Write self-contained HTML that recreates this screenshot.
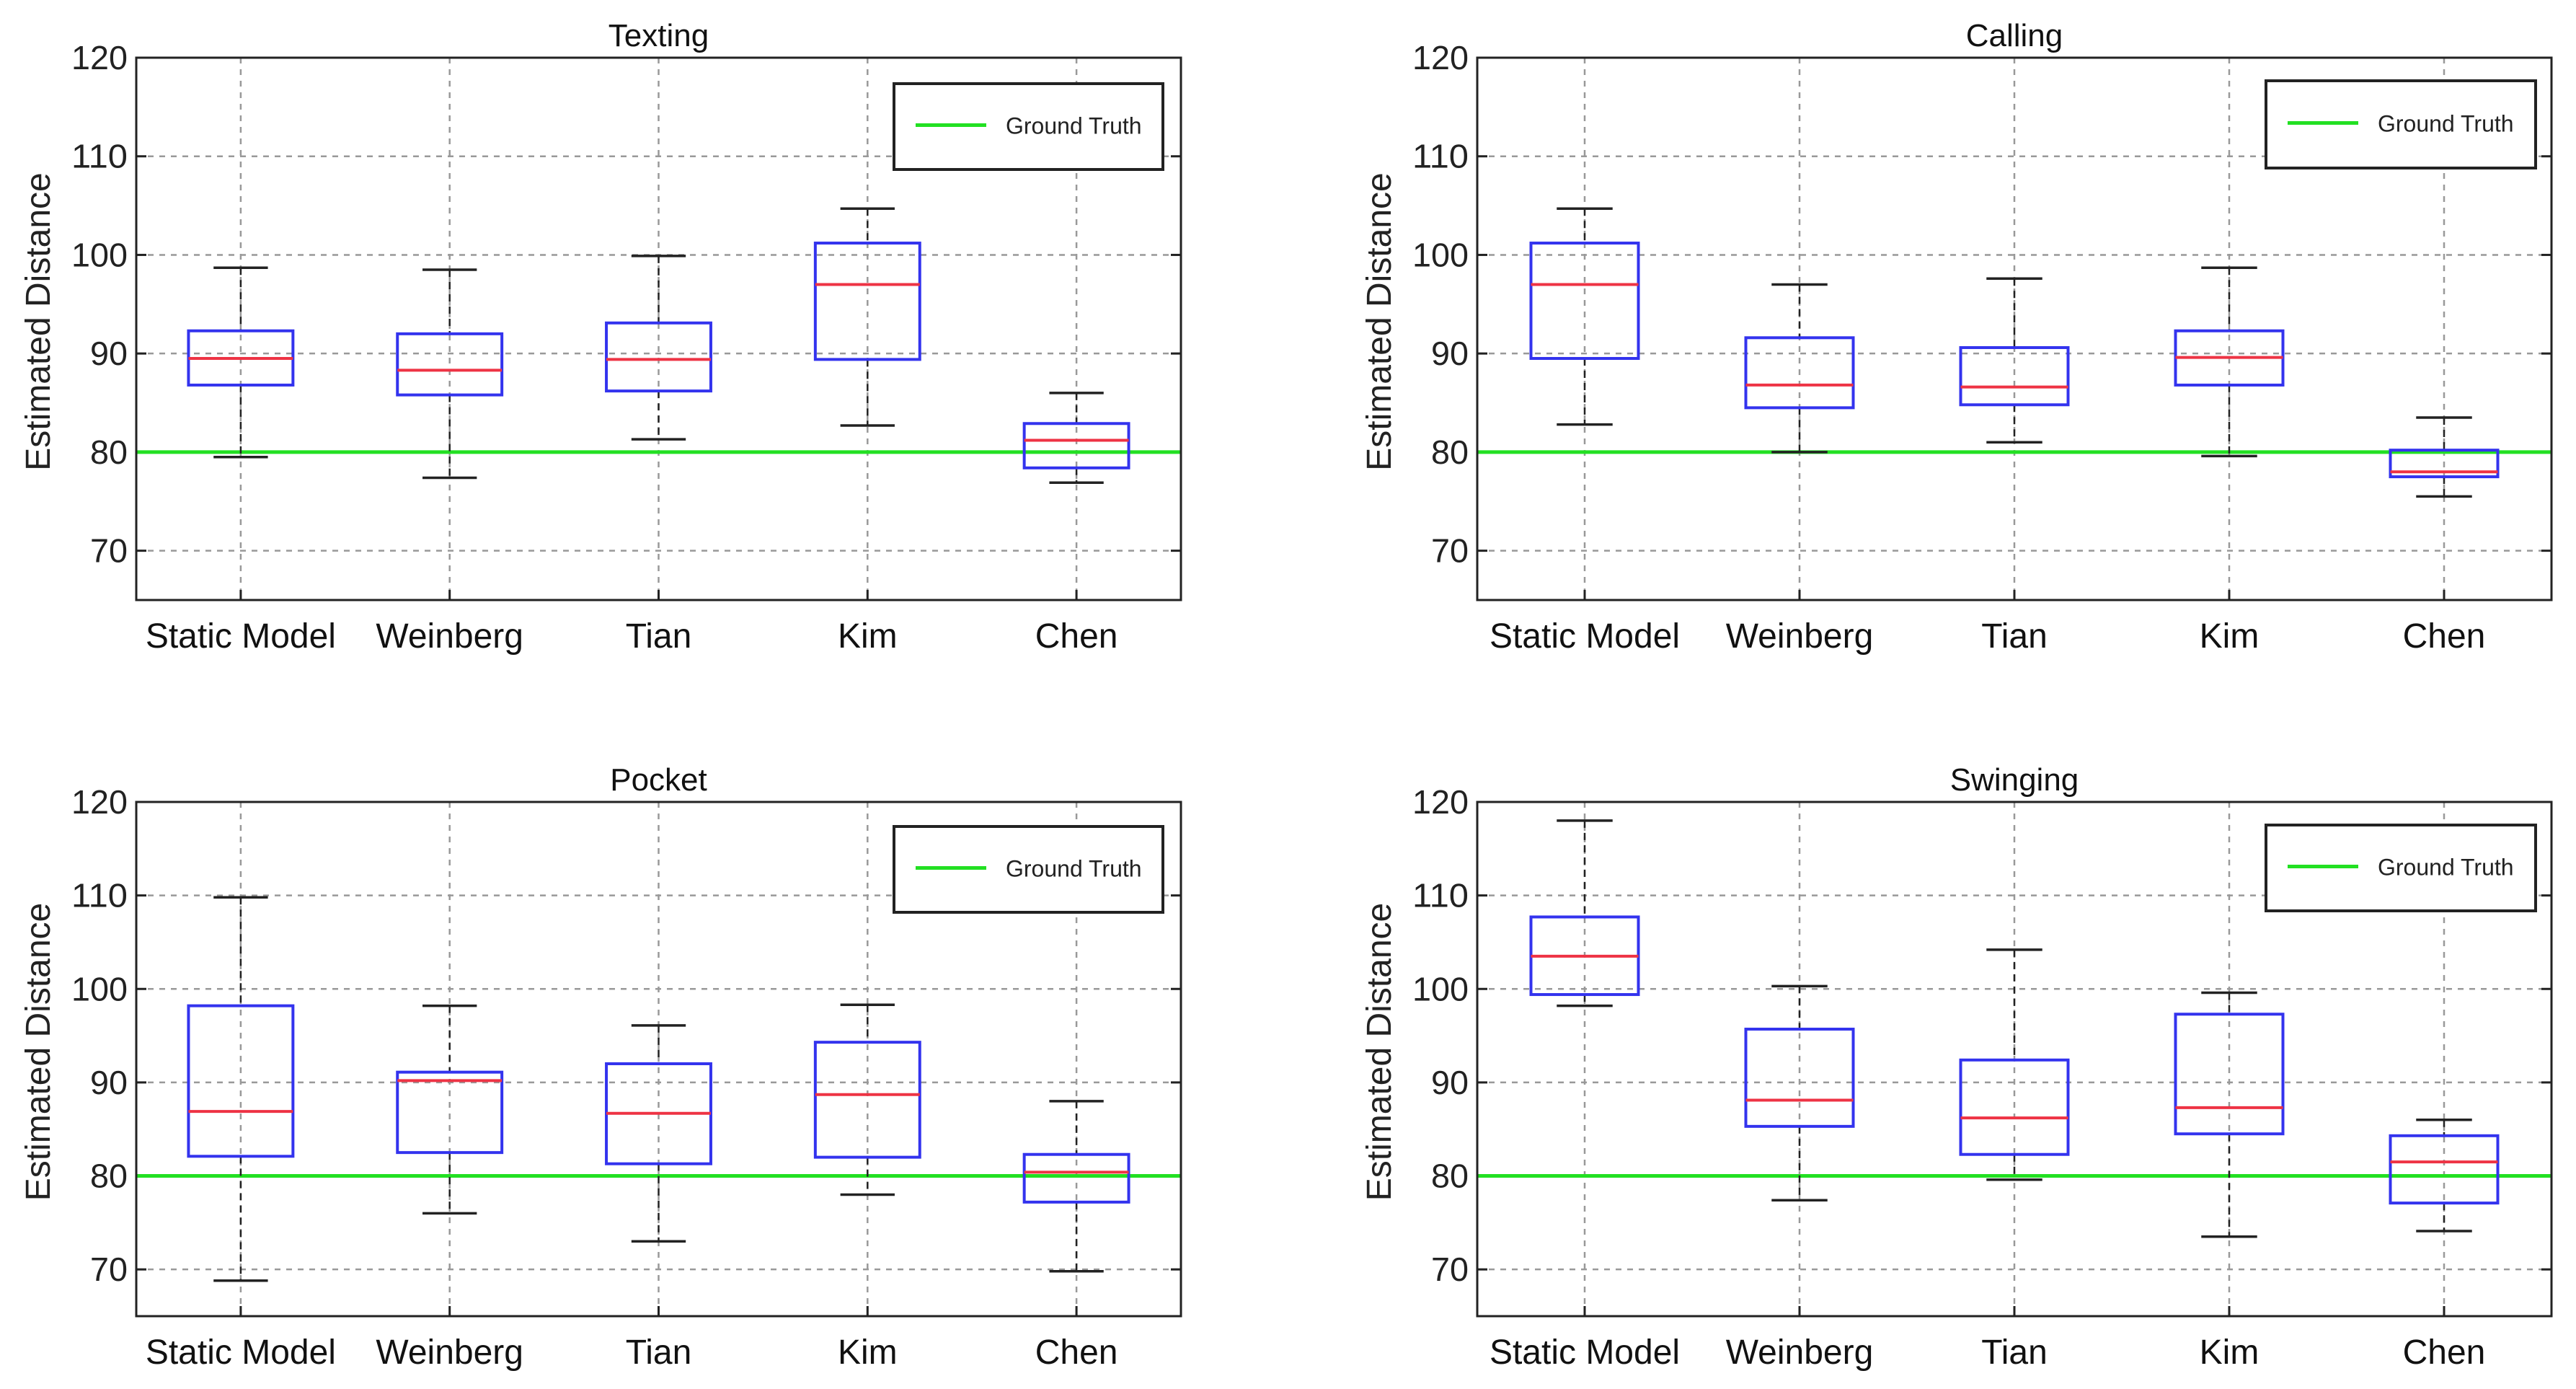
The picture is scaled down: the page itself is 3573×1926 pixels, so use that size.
<!DOCTYPE html>
<html><head><meta charset="utf-8"><style>
html,body{margin:0;padding:0;background:#fff}
svg{display:block}
text{font-family:"Liberation Sans",Arial,sans-serif}
</style></head><body>
<svg id="fig" width="3573" height="1926" viewBox="0 0 3573 1926" xmlns="http://www.w3.org/2000/svg"></svg>
<script>
const categories = ["Static Model","Weinberg","Tian","Kim","Chen"];
const yTicks = [70,80,90,100,110,120];
const groundTruth = 80;
const panelTitles = ["Texting","Calling","Pocket","Swinging"];
// [low whisker, q1, median, q3, high whisker] per category
const textingStats = [[79.5,86.8,89.5,92.3,98.7],[77.4,85.8,88.3,92,98.5],[81.3,86.2,89.4,93.1,99.9],[82.7,89.4,97,101.2,104.7],[76.9,78.4,81.2,82.9,86]];
const callingStats = [[82.8,89.5,97,101.2,104.7],[80,84.5,86.8,91.6,97],[81,84.8,86.6,90.6,97.6],[79.6,86.8,89.6,92.3,98.7],[75.5,77.5,78,80.2,83.5]];
const pocketStats = [[68.8,82.1,86.9,98.2,109.8],[76,82.5,90.2,91.1,98.2],[73,81.3,86.7,92,96.1],[78,82,88.7,94.3,98.3],[69.8,77.2,80.4,82.3,88]];
const swingingStats = [[98.2,99.4,103.5,107.7,118],[77.4,85.3,88.1,95.7,100.3],[79.6,82.3,86.2,92.4,104.2],[73.5,84.5,87.3,97.3,99.6],[74.1,77.1,81.5,84.3,86]];
const allStats = [textingStats,callingStats,pocketStats,swingingStats];

const NS="http://www.w3.org/2000/svg";
const svg=document.getElementById('fig');
function mk(tag,attrs,parent){const e=document.createElementNS(NS,tag);for(const k in attrs)e.setAttribute(k,attrs[k]);(parent||svg).appendChild(e);return e;}

const panels=[
 {l:189,r:1638,t:80,b:832,leg:[1240,116,373,119]},
 {l:2049,r:3539,t:80,b:832,leg:[3143,112,374,121]},
 {l:189,r:1638,t:1112,b:1825,leg:[1240,1146,373,119]},
 {l:2049,r:3539,t:1112,b:1825,leg:[3143,1144,374,119]}
];
const yMin=65,yMax=120;

panels.forEach((p,pi)=>{
 const g=mk('g',{});
 
 
 const y=v=>p.b-(v-yMin)/(yMax-yMin)*(p.b-p.t);
 const step=(p.r-p.l)/categories.length;
 const x=i=>p.l+step*(i+0.5);
 yTicks.forEach(v=>{
  const gl=mk('line',{x1:p.l,x2:p.r,y1:y(v),y2:y(v),stroke:'#999','stroke-width':2.5,'stroke-dasharray':'8,8'},g);
  
  
  mk('line',{x1:p.l,x2:p.l+14,y1:y(v),y2:y(v),stroke:'#222','stroke-width':3},g);
  mk('line',{x1:p.r-14,x2:p.r,y1:y(v),y2:y(v),stroke:'#222','stroke-width':3},g);
  const tl=mk('text',{x:p.l-12,y:y(v)+16,'text-anchor':'end','font-size':46,fill:'#222','textLength':v>=100?78:52,'lengthAdjust':'spacingAndGlyphs'},g);
  tl.textContent=v;
  
  
 });
 categories.forEach((c,i)=>{
  mk('line',{x1:x(i),x2:x(i),y1:p.t,y2:p.b,stroke:'#999','stroke-width':2.5,'stroke-dasharray':'8,8'},g);
  mk('line',{x1:x(i),x2:x(i),y1:p.b-14,y2:p.b,stroke:'#222','stroke-width':3},g);
  const cl=mk('text',{x:x(i),y:p.b+66,'text-anchor':'middle','font-size':48,fill:'#111'},g);
  cl.textContent=c;
  
  
 });
 const gt=mk('line',{x1:p.l,x2:p.r,y1:y(groundTruth),y2:y(groundTruth),stroke:'#22e022','stroke-width':5},g);
 
 
 allStats[pi].forEach((s,i)=>{
  const bw=step*0.5, cw=step*0.26, cx=x(i);
  const bg=mk('g',{},g);
  
  
  mk('line',{x1:cx,x2:cx,y1:y(s[4]),y2:y(s[3]),stroke:'#222','stroke-width':2.5,'stroke-dasharray':'10,7'},bg);
  mk('line',{x1:cx,x2:cx,y1:y(s[1]),y2:y(s[0]),stroke:'#222','stroke-width':2.5,'stroke-dasharray':'10,7'},bg);
  mk('line',{x1:cx-cw/2,x2:cx+cw/2,y1:y(s[4]),y2:y(s[4]),stroke:'#222','stroke-width':3.5},bg);
  mk('line',{x1:cx-cw/2,x2:cx+cw/2,y1:y(s[0]),y2:y(s[0]),stroke:'#222','stroke-width':3.5},bg);
  mk('rect',{x:cx-bw/2,y:y(s[3]),width:bw,height:y(s[1])-y(s[3]),fill:'none',stroke:'#3333ee','stroke-width':4},bg);
  mk('line',{x1:cx-bw/2,x2:cx+bw/2,y1:y(s[2]),y2:y(s[2]),stroke:'#ee3344','stroke-width':4},bg);
 });
 const fr=mk('rect',{x:p.l,y:p.t,width:p.r-p.l,height:p.b-p.t,fill:'none',stroke:'#222','stroke-width':3},g);
 
 
 const tt=mk('text',{x:(p.l+p.r)/2,y:p.t-16,'text-anchor':'middle','font-size':44,fill:'#111'},g);
 tt.textContent=panelTitles[pi];
 
 
 const yl=mk('text',{x:0,y:0,'text-anchor':'middle','font-size':48,fill:'#222',transform:`translate(${p.l-120},${(p.t+p.b)/2-10}) rotate(-90)`},g);
 yl.textContent='Estimated Distance';
 
 
 const [lx,ly,lw,lh]=p.leg;
 const lg=mk('g',{},g);
 
 
 mk('rect',{x:lx,y:ly,width:lw,height:lh,fill:'#fff',stroke:'#222','stroke-width':4},lg);
 mk('line',{x1:lx+30,x2:lx+128,y1:ly+lh/2-2,y2:ly+lh/2-2,stroke:'#22e022','stroke-width':5},lg);
 const lt=mk('text',{x:lx+155,y:ly+lh/2+10,'font-size':32,fill:'#222'},lg);
 lt.textContent='Ground Truth';
 
 
});
</script>
</body></html>
